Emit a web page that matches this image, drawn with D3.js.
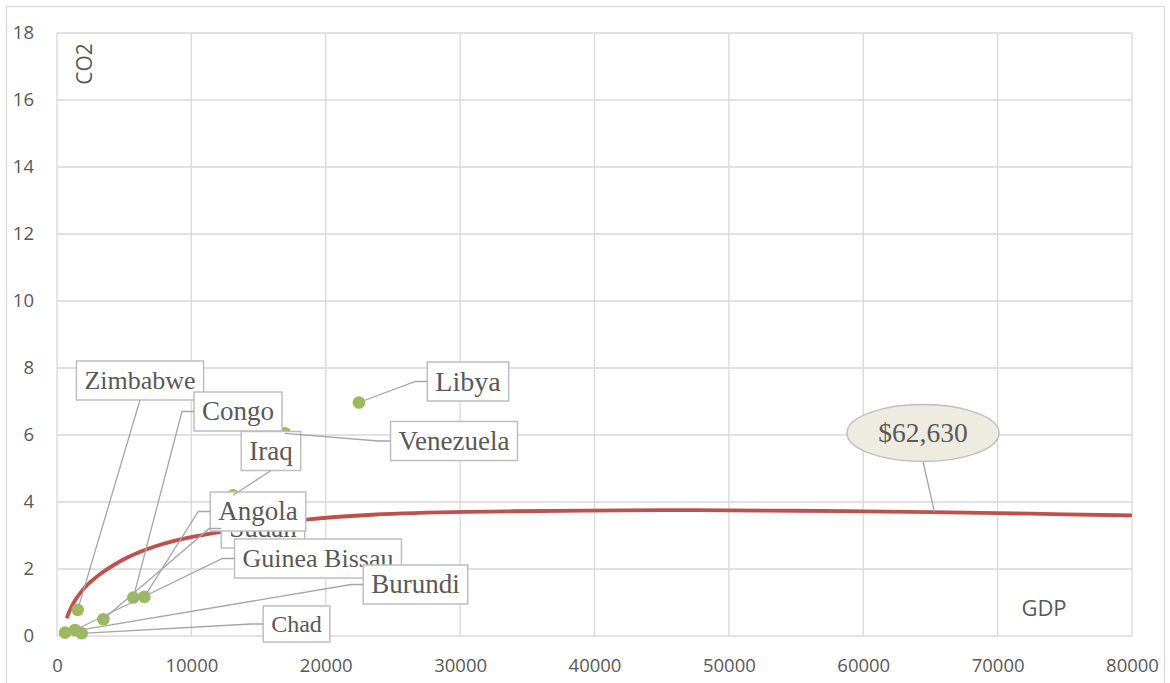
<!DOCTYPE html>
<html>
<head>
<meta charset="utf-8">
<script src="https://cdn.jsdelivr.net/npm/d3@7"></script>
<style>
  html, body { margin: 0; padding: 0; background: #fff; }
  svg { display: block; }
</style>
</head>
<body>
<svg id="chart" width="1170" height="683"></svg>
<script>
// ---- data ----
const countries = ["Zimbabwe", "Congo", "Iraq", "Libya", "Venezuela", "Sudan", "Angola", "Guinea Bissau", "Burundi", "Chad"];
const gdp = [1540, 5680, 13100, 22470, 16960, 3450, 6500, 1340, 600, 1840];
const co2 = [0.78, 1.15, 4.2, 6.97, 6.05, 0.50, 1.17, 0.18, 0.10, 0.08];

const trendGdp = [720, 1000, 1340, 1800, 2330, 3000, 3570, 4810, 6000, 7290, 8500, 9770, 11760, 15000, 18580, 23040, 30030, 39910, 45370, 49830, 55280, 60000, 65000, 70000, 75000, 80000];
const trendCo2 = [0.53, 0.82, 1.07, 1.33, 1.56, 1.79, 1.96, 2.27, 2.49, 2.68, 2.82, 2.94, 3.08, 3.30, 3.49, 3.63, 3.71, 3.75, 3.76, 3.75, 3.74, 3.72, 3.70, 3.67, 3.63, 3.60];

const xTicks = [0, 10000, 20000, 30000, 40000, 50000, 60000, 70000, 80000];
const yTicks = [0, 2, 4, 6, 8, 10, 12, 14, 16, 18];

const calloutText = "$62,630";
const calloutGdp = 65300;
const calloutCo2 = 3.70;

const xTitle = "GDP";
const yTitle = "CO2";

// ---- layout (label boxes: center position, font size, leader anchor) ----
const labelLayout = {
  "Zimbabwe":      { cx: 140,   cy: 380.5, fs: 26, anchor: "bottom" },
  "Congo":         { cx: 238,   cy: 411.5, fs: 27, anchor: "left" },
  "Iraq":          { cx: 271,   cy: 451,   fs: 27, anchor: "bottom" },
  "Libya":         { cx: 468,   cy: 381.5, fs: 28, anchor: "left" },
  "Venezuela":     { cx: 454,   cy: 441,   fs: 27, anchor: "left" },
  "Sudan":         { cx: 263,   cy: 528.5, fs: 27, anchor: "left" },
  "Angola":        { cx: 258,   cy: 511.5, fs: 27, anchor: "left" },
  "Guinea Bissau": { cx: 318,   cy: 558.5, fs: 26, anchor: "left" },
  "Burundi":       { cx: 415.5, cy: 584.5, fs: 27, anchor: "left" },
  "Chad":          { cx: 296.5, cy: 624,   fs: 24, anchor: "left" }
};

const svg = d3.select("#chart");

const x = d3.scaleLinear().domain([0, 80000]).range([57, 1132]);
const y = d3.scaleLinear().domain([0, 18]).range([636, 33]);

// outer border
svg.append("rect").attr("x", 6.5).attr("y", 6.5).attr("width", 1158).attr("height", 700)
  .attr("fill", "#fff").attr("stroke", "#D9D9D9").attr("stroke-width", 1.3);

// gridlines
const grid = svg.append("g");
grid.selectAll("line.v").data(xTicks).join("line")
  .attr("x1", d => x(d)).attr("x2", d => x(d))
  .attr("y1", y(18)).attr("y2", y(0))
  .attr("stroke", "#D9D9D9").attr("stroke-width", 1.3);
grid.selectAll("line.h").data(yTicks).join("line")
  .attr("x1", x(0)).attr("x2", x(80000))
  .attr("y1", d => y(d)).attr("y2", d => y(d))
  .attr("stroke", "#D9D9D9").attr("stroke-width", 1.3);

// axes (labels only)
const tickFont = "'Open Sans', sans-serif";
const xAxis = d3.axisBottom(x).tickValues(xTicks).tickSize(0).tickPadding(0).tickFormat(d3.format("d"));
const gx = svg.append("g").attr("transform", `translate(0, 659)`).call(xAxis);
gx.select(".domain").remove();
gx.selectAll("text").attr("font-family", tickFont).attr("font-size", 18.5).attr("fill", "#595959");

const yAxis = d3.axisLeft(y).tickValues(yTicks).tickSize(0).tickPadding(0).tickFormat(d3.format("d"));
const gy = svg.append("g").attr("transform", `translate(34, 0)`).call(yAxis);
gy.select(".domain").remove();
gy.selectAll("text").attr("font-family", tickFont).attr("font-size", 18.5).attr("fill", "#595959");

// axis titles
svg.append("text").attr("transform", "translate(84,64) rotate(-90)")
  .attr("text-anchor", "middle").attr("dy", "0.36em")
  .attr("font-family", tickFont).attr("font-size", 21).attr("fill", "#595959").text(yTitle);
svg.append("text").attr("x", 1044).attr("y", 608)
  .attr("text-anchor", "middle").attr("dy", "0.36em")
  .attr("font-family", tickFont).attr("font-size", 22).attr("fill", "#595959").text(xTitle);

// trendline
const trend = trendGdp.map((g, i) => [g, trendCo2[i]]);
svg.append("path").datum(trend)
  .attr("d", d3.line().x(d => x(d[0])).y(d => y(d[1])).curve(d3.curveBasis))
  .attr("fill", "none").attr("stroke", "#C0504D").attr("stroke-width", 3.8).attr("stroke-linecap", "butt");

// points
const pts = countries.map((c, i) => ({ name: c, gdp: gdp[i], co2: co2[i] }));
svg.append("g").selectAll("circle").data(pts).join("circle")
  .attr("cx", d => x(d.gdp)).attr("cy", d => y(d.co2)).attr("r", 6.3)
  .attr("fill", "#9BBB59");

// labels: measure text first
const serif = "'Liberation Serif', 'Times New Roman', serif";
const labelG = svg.append("g");
const padX = 8, boxH = 39;

const measured = pts.map(d => {
  const L = labelLayout[d.name];
  const t = labelG.append("text").attr("font-family", serif).attr("font-size", L.fs).text(d.name);
  const w = t.node().getComputedTextLength();
  t.remove();
  const bw = w + padX * 2;
  const bh = L.fs === 24 ? 36 : boxH;
  return Object.assign({}, d, L, { bw, bh, left: L.cx - bw / 2, top: L.cy - bh / 2 });
});

// leader lines
const leaderG = svg.append("g");
measured.forEach(m => {
  const px = x(m.gdp), py = y(m.co2);
  let pts2;
  if (m.anchor === "bottom") {
    pts2 = [[m.cx, m.top + m.bh], [px, py]];
  } else {
    pts2 = [[m.left, m.cy], [m.left - 12, m.cy], [px, py]];
  }
  leaderG.append("path").attr("d", d3.line()(pts2))
    .attr("fill", "none").attr("stroke", "#A6A6A6").attr("stroke-width", 1.3);
});

// callout leader
const cCx = 923, cCy = 433, cRx = 76, cRy = 28.5;
leaderG.append("line").attr("x1", cCx).attr("y1", cCy + cRy)
  .attr("x2", x(calloutGdp)).attr("y2", y(calloutCo2))
  .attr("stroke", "#A6A6A6").attr("stroke-width", 1.3);

// label boxes
measured.forEach(m => {
  const g = labelG.append("g");
  g.append("rect").attr("x", m.left).attr("y", m.top).attr("width", m.bw).attr("height", m.bh)
    .attr("fill", "#fff").attr("stroke", "#BFBFBF").attr("stroke-width", 1.5);
  g.append("text").attr("x", m.cx).attr("y", m.cy).attr("dy", "0.33em")
    .attr("text-anchor", "middle").attr("font-family", serif).attr("font-size", m.fs)
    .attr("fill", "#595959").text(m.name);
});

// callout ellipse
svg.append("ellipse").attr("cx", cCx).attr("cy", cCy).attr("rx", cRx).attr("ry", cRy)
  .attr("fill", "#EEECE1").attr("stroke", "#BFBFBF").attr("stroke-width", 1.5);
svg.append("text").attr("x", cCx).attr("y", cCy).attr("dy", "0.33em")
  .attr("text-anchor", "middle").attr("font-family", serif).attr("font-size", 27.5)
  .attr("fill", "#595959").text(calloutText);
</script>
</body>
</html>
